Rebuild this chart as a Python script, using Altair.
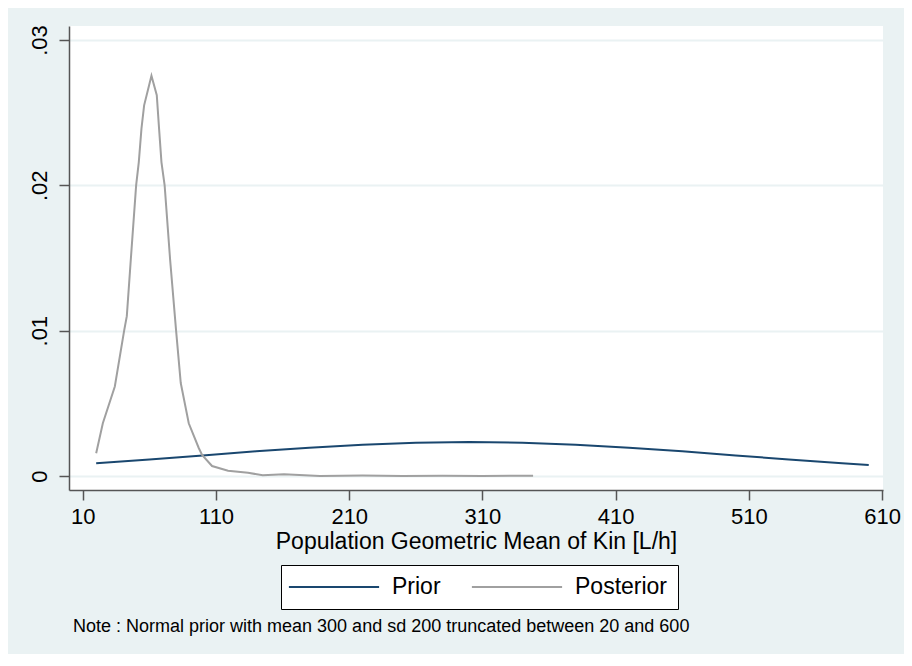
import altair as alt
import pandas as pd

# ===== Colours / fonts =====
BG_COLOR = "#EAF2F3"
PRIOR_COLOR = "#1A476F"
POSTERIOR_COLOR = "#A0A0A0"
AXIS_COLOR = "#555555"
FONT = "Liberation Sans"

# ===== Data =====
prior_kin = [20, 60, 100, 140, 180, 220, 260, 300, 340, 380, 420, 460, 500, 540, 580, 600]
prior_density = [0.00088, 0.00114, 0.00142, 0.00170, 0.00195, 0.00216, 0.00229, 0.00234,
                 0.00229, 0.00216, 0.00195, 0.00170, 0.00142, 0.00114, 0.00088, 0.00076]

posterior_kin = [20, 25, 34, 41, 43, 46, 50, 52, 54, 56, 61.5, 65.5, 67.3, 69, 71.4, 75.5,
                 80, 83.5, 89.5, 97, 99.5, 107, 119, 134, 145, 161, 188, 220, 250, 280, 310, 348]
posterior_density = [0.00157, 0.00363, 0.00616, 0.0100, 0.0110, 0.0149, 0.0200, 0.0216,
                     0.0239, 0.0255, 0.02754, 0.0262, 0.0238, 0.0216, 0.0200, 0.0149,
                     0.0100, 0.0064, 0.00363, 0.00193, 0.00145, 0.00069, 0.00037, 0.00023,
                     0.00005, 0.00012, 0.00000, 0.00003, 0.00001, 0.00002, 0.00001, 0.00002]

SERIES = ["Prior", "Posterior"]
X_TICKS = [10, 110, 210, 310, 410, 510, 610]
Y_TICKS = [0, 0.01, 0.02, 0.03]
X_TITLE = "Population Geometric Mean of Kin [L/h]"
NOTE = "Note : Normal prior with mean 300 and sd 200 truncated between 20 and 600"

df = pd.concat([
    pd.DataFrame({"kin": prior_kin, "density": prior_density, "series": "Prior"}),
    pd.DataFrame({"kin": posterior_kin, "density": posterior_density, "series": "Posterior"}),
], ignore_index=True)

y_label_expr = "datum.value == 0 ? '0' : replace(format(datum.value, '.2f'), '0.', '.')"

chart = (
    alt.Chart(df, title=alt.TitleParams(
        text=NOTE, orient="bottom", anchor="start", frame="group",
        font=FONT, fontSize=18, fontWeight="normal", color="black",
        offset=8, dx=4,
    ))
    .mark_line(strokeWidth=2)
    .encode(
        x=alt.X("kin:Q",
                scale=alt.Scale(domain=[-0.4, 610.7], nice=False, zero=False),
                axis=alt.Axis(values=X_TICKS, format="d", title=X_TITLE, grid=False,
                              labelFontSize=22, titleFontSize=23, tickSize=10,
                              labelPadding=6, titlePadding=3, labelFlush=False)),
        y=alt.Y("density:Q",
                scale=alt.Scale(domain=[-0.00096, 0.03096], nice=False, zero=False),
                axis=alt.Axis(values=Y_TICKS, title=None, labelExpr=y_label_expr,
                              labelAngle=270, labelAlign="center", labelBaseline="bottom",
                              labelFontSize=22, tickSize=10, labelPadding=8,
                              grid=True, gridColor=BG_COLOR, gridWidth=2, labelFlush=False)),
        color=alt.Color("series:N",
                        scale=alt.Scale(domain=SERIES, range=[PRIOR_COLOR, POSTERIOR_COLOR]),
                        legend=alt.Legend(
                            title=None, orient="none", legendX=212, legendY=539,
                            direction="horizontal", fillColor="white", strokeColor="black",
                            padding=10, symbolType="M-4.1,0H4.1", symbolSize=484,
                            symbolStrokeWidth=2, symbolOffset=31, labelOffset=46,
                            columnPadding=26, labelFont=FONT, labelFontSize=23,
                            labelColor="black")),
    )
    .properties(width=814, height=464,
                autosize=alt.AutoSizeParams(type="none"),
                padding={"left": 61, "top": 18, "right": 21, "bottom": 164})
    .configure(background=BG_COLOR)
    .configure_view(fill="white", stroke=None)
    .configure_axis(domainColor=AXIS_COLOR, tickColor=AXIS_COLOR, labelColor="black",
                    titleColor="black", labelFont=FONT, titleFont=FONT,
                    titleFontWeight="normal", domainWidth=1.5, tickWidth=1.5)
)

chart.save("out.html", embed_options={"renderer": "svg", "actions": False})
